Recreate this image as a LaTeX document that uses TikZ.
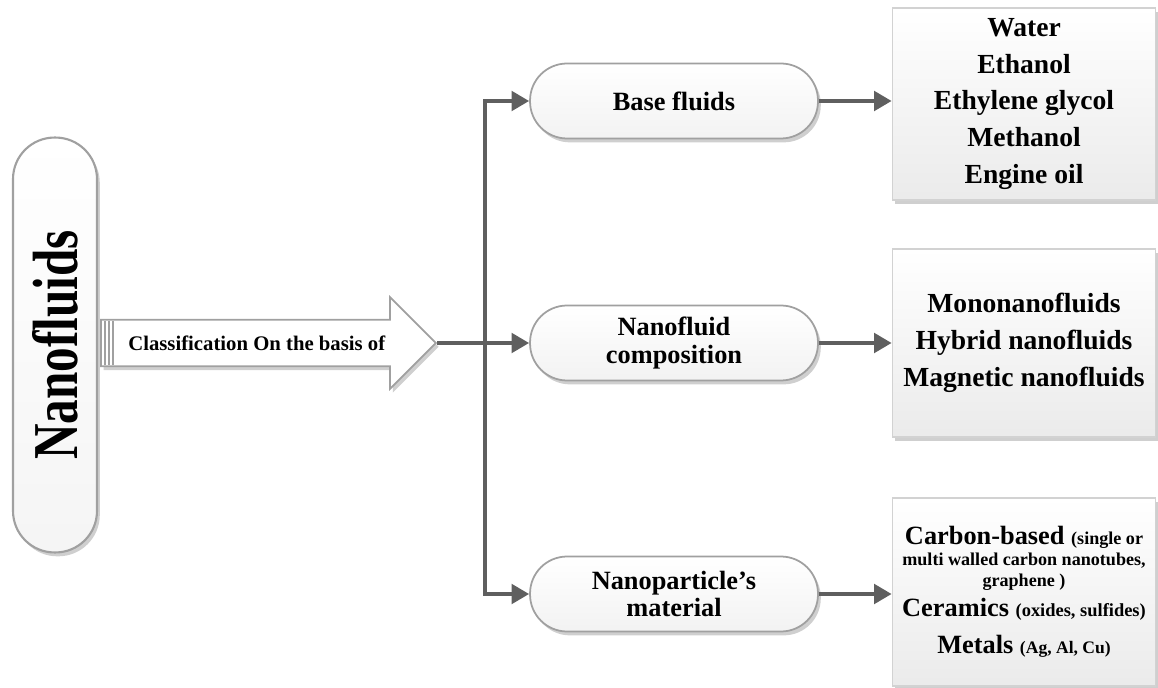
\documentclass[tikz,border=0pt]{standalone}
\usepackage{fontspec}
\setmainfont{Liberation Serif}
\usetikzlibrary{shapes.arrows,shadows,arrows.meta}
\definecolor{linkgray}{RGB}{95,95,95}
\definecolor{rimgray}{RGB}{160,160,160}

\tikzset{
	softshadow/.style={drop shadow={shadow xshift=1.6pt, shadow yshift=-2.2pt, fill=gray!75}},
	pill/.style={draw=rimgray, line width=1pt, top color=white, bottom color=gray!10,
		rounded corners=0.74cm, minimum width=5.76cm, minimum height=1.5cm,
		align=center, font=\bfseries\fontsize{15}{15.5}\selectfont, softshadow},
	listbox/.style={draw=gray!35, line width=1pt, top color=white, bottom color=gray!16,
		minimum width=5.26cm, minimum height=3.76cm, align=center,
		font=\bfseries\fontsize{15.7}{21}\selectfont, softshadow},
	link/.style={draw=linkgray, line width=2.3pt},
	headtip/.tip={Triangle[length=10pt,width=11pt]}
}

\begin{document}
\begin{tikzpicture}[x=0.02cm, y=-0.02cm]
	\useasboundingbox (0,0) rectangle (1158,688);

	\node[draw=rimgray, line width=1.2pt, top color=white, bottom color=gray!8,
		rounded corners=0.83cm, minimum width=1.68cm, minimum height=8.3cm, softshadow] (nano) at (55,345)
		{\rotatebox{90}{\bfseries\fontsize{28}{30}\selectfont\scalebox{1}[1.3]{Nanofluids}}};

	\node[single arrow, draw=rimgray, fill=white, line width=1pt, minimum height=6.7cm,
		single arrow head extend=0.45cm, inner ysep=8.5pt, anchor=tail, softshadow,
		font=\bfseries\fontsize{11.8}{13}\selectfont] (cls) at (100,343) {Classification On the basis of};
	\foreach \dx in {5,9,13}
		\draw[rimgray, line width=0.8pt] ([xshift=\dx*0.02cm, yshift=-0.44cm]cls.tail) -- ([xshift=\dx*0.02cm, yshift=0.44cm]cls.tail);

	\coordinate (j) at (485,343);

	\node[pill] (base) at (674,101) {Base fluids};
	\node[pill] (comp) at (674,343) {Nanofluid\\composition};
	\node[pill] (mat)  at (674,594) {Nanoparticle’s\\material};

	\node[listbox, minimum height=3.84cm] (b1) at (1024,104)
		{Water\\Ethanol\\Ethylene glycol\\Methanol\\Engine oil};
	\node[listbox] (b2) at (1024,343)
		{Mononanofluids\\Hybrid nanofluids\\Magnetic nanofluids};
	\node[listbox, font=\bfseries\fontsize{15}{21}\selectfont] (b3) at (1024,592)
		{Carbon-based {\fontsize{10.3}{12}\selectfont (single or}\\[-9pt]
		 {\fontsize{10.3}{12}\selectfont multi walled carbon nanotubes,}\\[-9pt]
		 {\fontsize{10.3}{12}\selectfont graphene )}\\[-4pt]
		 Ceramics {\fontsize{10.5}{12}\selectfont (oxides, sulfides)}\\
		 Metals {\fontsize{10}{12}\selectfont (Ag, Al, Cu)}};

	\draw[link, headtip-headtip] (base.west) -| (j) |- (mat.west);
	\draw[link, -headtip] (cls.tip) -- (comp.west);
	\draw[link, -headtip] (base.east) -- (base.east -| b1.west);
	\draw[link, -headtip] (comp.east) -- (comp.east -| b2.west);
	\draw[link, -headtip] (mat.east) -- (mat.east -| b3.west);
\end{tikzpicture}
\end{document}
